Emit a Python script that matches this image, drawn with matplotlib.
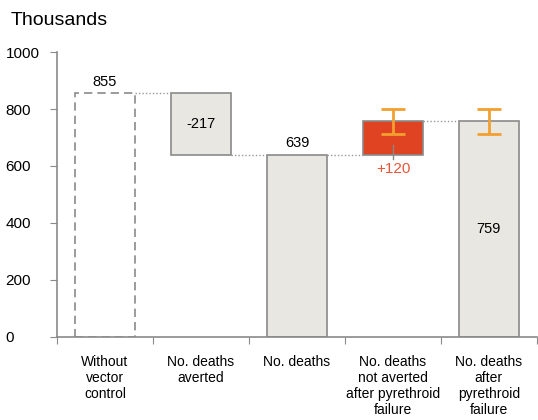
import matplotlib.pyplot as plt

plt.rcParams['font.family'] = ['Liberation Sans', 'DejaVu Sans']

categories = ['Without\nvector\ncontrol', 'No. deaths\naverted', 'No. deaths',
              'No. deaths\nnot averted\nafter pyrethroid\nfailure',
              'No. deaths\nafter\npyrethroid\nfailure']
bottoms = [0, 638, 0, 639, 0]
tops = [855, 855, 639, 759, 759]
labels = ['855', '-217', '639', '+120', '759']
err_low = [None, None, None, 714, 714]
err_high = [None, None, None, 799, 799]

grey_fill = '#e8e7e2'
edge = '#8a8a8a'
red = '#e04322'
orange = '#f2a030'

fig = plt.figure(figsize=(5.38, 4.2), dpi=100)
ax = fig.add_axes([0.106, 0.198, 0.892, 0.678])

w = 0.625
x = list(range(len(categories)))

# first column drawn as a dashed outline only
ax.bar(x[0], tops[0] - bottoms[0], w, bottom=bottoms[0], facecolor='none',
       edgecolor=edge, linestyle=(0, (5, 3)), linewidth=1.2)
for i in range(1, 5):
    fc = red if i == 3 else grey_fill
    ax.bar(x[i], tops[i] - bottoms[i], w, bottom=bottoms[i], facecolor=fc,
           edgecolor=edge, linewidth=1.2, zorder=2)

# dotted connectors between adjacent columns
levels = [855, 638, 639, 759]
for i, lv in enumerate(levels):
    ax.plot([x[i] + w / 2, x[i + 1] - w / 2], [lv, lv], color='#999999',
            linestyle=(0, (1, 1.5)), linewidth=1)

# uncertainty ranges
for i in (3, 4):
    ax.errorbar(x[i], (err_low[i] + err_high[i]) / 2,
                yerr=(err_high[i] - err_low[i]) / 2, fmt='none',
                ecolor=orange, elinewidth=2, capsize=8.5, capthick=2, zorder=3)

# value labels
ax.text(x[0], tops[0] + 40, labels[0], ha='center', va='center', fontsize=10.5)
ax.text(x[1], (tops[1] + bottoms[1]) / 2, labels[1], ha='center', va='center', fontsize=10.5)
ax.text(x[2], tops[2] + 40, labels[2], ha='center', va='center', fontsize=10.5)
ax.plot([x[3], x[3]], [626, 675], color='#888888', linewidth=1, zorder=4)
ax.text(x[3], 588, labels[3], ha='center', va='center', fontsize=11, color='#e8553a')
ax.text(x[4], tops[4] / 2, labels[4], ha='center', va='center', fontsize=10.5)

ax.set_xlim(-0.5, 4.5)
ax.set_ylim(0, 1000)
ax.set_yticks([0, 200, 400, 600, 800, 1000])
ax.set_yticklabels(['0', '200', '400', '600', '800', '1000'], ha='left')
ax.tick_params(axis='y', length=5, color=edge, labelsize=11, pad=32)

ax.set_xticks([i - 0.5 for i in range(6)])
ax.set_xticklabels([])
ax.set_xticks(x, minor=True)
ax.set_xticklabels(categories, minor=True, fontsize=10, linespacing=1.2, va='top')
ax.tick_params(axis='x', which='major', length=5, color=edge)
ax.tick_params(axis='x', which='minor', length=0, pad=13)

for s in ('top', 'right'):
    ax.spines[s].set_visible(False)
for s in ('left', 'bottom'):
    ax.spines[s].set_color(edge)
    ax.spines[s].set_linewidth(1.2)

fig.text(0.019, 0.952, 'Thousands', fontsize=14, va='center', ha='left')

fig.savefig('out.png', dpi=100)
